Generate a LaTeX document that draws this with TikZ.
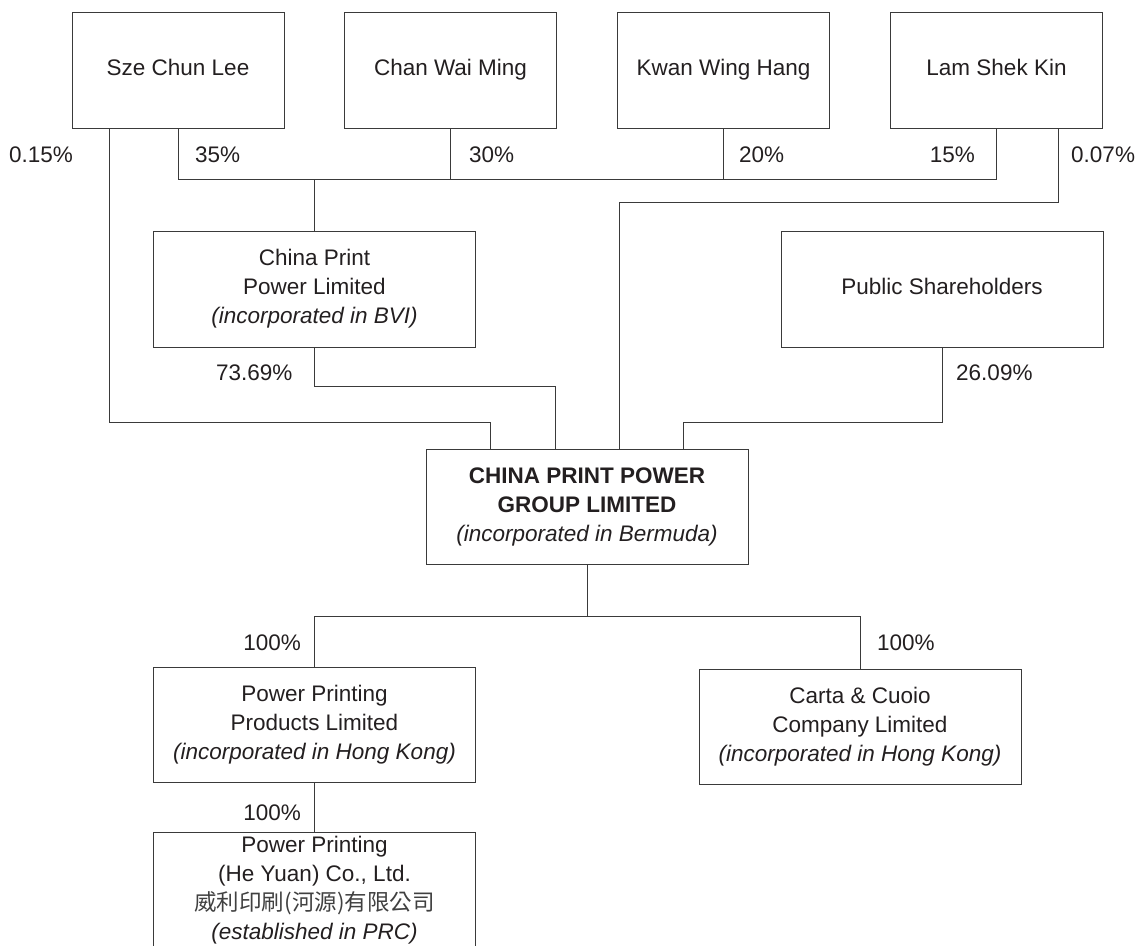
\documentclass[tikz,border=0pt]{standalone}
\usepackage{fontspec}
\setmainfont{Liberation Sans}
\newfontfamily\cjkfont{Noto Sans CJK TC}
\definecolor{linegray}{HTML}{3A3A3A}
\definecolor{inkblack}{HTML}{231F20}
\tikzset{
  orgbox/.style={draw=linegray, line width=1pt, align=center, inner sep=0pt,
    minimum width=212pt, minimum height=116pt, text=inkblack,
    font=\fontsize{22.5pt}{29pt}\selectfont},
  personbox/.style={orgbox, text height=16pt, text depth=5pt},
  widebox/.style={orgbox, minimum width=322pt},
  share/.style={inner sep=0pt, text=inkblack, font=\fontsize{22.5pt}{29pt}\selectfont},
  link/.style={draw=linegray, line width=1pt}
}

\begin{document}
\begin{tikzpicture}[x=1pt, y=-1pt]
        \clip (0,0) rectangle (1139,945); % page size of the reference

        % shareholders on top
        \node[personbox] (sze)  at (178,70)   {Sze Chun Lee};
        \node[personbox] (chan) at (450.5,70) {Chan Wai Ming};
        \node[personbox] (kwan) at (723.5,70) {Kwan Wing Hang};
        \node[personbox] (lam)  at (996.5,70) {Lam Shek Kin};

        % middle row
        \node[widebox] (cpp) at (314.5,289) {China Print\\Power Limited\\\textit{(incorporated in BVI)}};
        \node[widebox, text height=16pt, text depth=5pt] (pub) at (942,289) {Public Shareholders};

        % listed company
        \node[widebox, minimum height=115pt] (grp) at (587,506.5)
              {\textbf{CHINA PRINT POWER}\\\textbf{GROUP LIMITED}\\\textit{(incorporated in Bermuda)}};

        % subsidiaries
        \node[widebox, minimum height=115pt] (pppl)  at (314.5,724.5)
              {Power Printing\\Products Limited\\\textit{(incorporated in Hong Kong)}};
        \node[widebox, minimum height=115pt] (carta) at (860,726.5)
              {Carta \& Cuoio\\Company Limited\\\textit{(incorporated in Hong Kong)}};
        \node[widebox, minimum height=116pt] (phy)   at (314.5,890)
              {Power Printing\\(He Yuan) Co., Ltd.\\{\cjkfont\color{black!75}威利印刷(河源)有限公司}\\\textit{(established in PRC)}};

        % helper points
        \coordinate (bus) at (0,179);                  % y of the 35/30/20/15 line
        \coordinate (s1) at ([xshift=-69pt]sze.south); % 0.15% leg
        \coordinate (l2) at ([xshift=61.5pt]lam.south);% 0.07% leg
        \coordinate (in1) at ([xshift=-97pt]grp.north);
        \coordinate (in2) at ([xshift=-32pt]grp.north);
        \coordinate (in3) at ([xshift=32pt]grp.north);
        \coordinate (in4) at ([xshift=96pt]grp.north);
        \coordinate (split) at ([yshift=-52pt]grp.south);

        % connectors
        \draw[link] (sze.south) |- (lam.south |- bus) -- (lam.south);
        \draw[link] (chan.south) -- (chan.south |- bus);
        \draw[link] (kwan.south) -- (kwan.south |- bus);
        \draw[link] (cpp.north) -- (cpp.north |- bus);
        \draw[link] (s1) |- ([yshift=26pt]in1) -- (in1);
        \draw[link] (cpp.south) |- ([yshift=62pt]in2) -- (in2);
        \draw[link] (l2) |- ([yshift=246pt]in3) -- (in3);
        \draw[link] (pub.south) |- ([yshift=26pt]in4) -- (in4);
        \draw[link] (grp.south) -- (split);
        \draw[link] (pppl.north) |- (split) -| (carta.north);
        \draw[link] (pppl.south) -- (phy.north);

        % percentages
        \node[share, anchor=west] (p015) at (9,155)    {0.15\%};
        \node[share, anchor=west] (p35)  at (195,155)  {35\%};
        \node[share, anchor=west] (p30)  at (469,155)  {30\%};
        \node[share, anchor=west] (p20)  at (739,155)  {20\%};
        \node[share, anchor=east] (p15)  at (975,155)  {15\%};
        \node[share, anchor=west] (p007) at (1071,155) {0.07\%};
        \node[share, anchor=west] (p7369) at (216,373) {73.69\%};
        \node[share, anchor=west] (p2609) at (956,373) {26.09\%};
        \node[share, anchor=east] (pa) at (301,643) {100\%};
        \node[share, anchor=west] (pb) at (877,643) {100\%};
        \node[share, anchor=east] (pc) at (301,813) {100\%};
    \end{tikzpicture}
\end{document}
